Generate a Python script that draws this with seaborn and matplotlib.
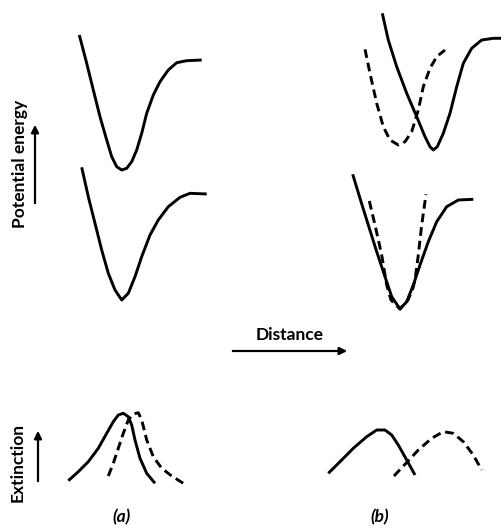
import matplotlib
matplotlib.use("Agg")
import matplotlib.pyplot as plt
import seaborn as sns

sns.set_theme(style="white")
plt.rcParams['font.family'] = ['Lato', 'DejaVu Sans']

# Schematic curves (distance, energy/extinction)
a_up_x = [79.3, 86.7, 93.3, 100, 106.7, 111.7, 116.7, 121.7, 126.7, 131.7, 136.7, 141.7,
          146.7, 153.3, 160, 168.3, 176.7, 186.7, 201.7]
a_up_y = [35, 63.3, 90, 116.7, 140, 156.7, 166.7, 170, 168.3, 161.7, 150, 133.3,
          113.3, 95, 81.7, 70, 62.7, 60.7, 60]

a_lo_x = [81.7, 88.3, 95, 101.7, 108.3, 115, 121.7, 128.3, 135, 141.7, 150, 158.3,
          168.3, 180, 190, 206.7]
a_lo_y = [167.3, 196.7, 223.3, 250, 273.3, 290, 300, 293.3, 276.7, 256.7, 235, 220,
          206.7, 197.3, 193.3, 194]

b_up_sx = [382.3, 388.3, 396.7, 406.7, 416.7, 425, 430, 433.3, 437.3, 443.3, 450, 456.7,
           463.3, 471.7, 481.7, 493.3, 502]
b_up_sy = [13.3, 40, 66.7, 93.3, 116.7, 136.7, 146.7, 150, 146.7, 133.3, 113.3, 86.7,
           63.3, 48.3, 40, 38.3, 38.3]

b_up_dx = [365, 370, 376.7, 383.3, 390, 398.3, 405, 411.7, 418.3, 423.3, 430, 436.7, 445]
b_up_dy = [49.3, 73.3, 103.3, 126.7, 140, 145, 141.7, 131.7, 110, 86.7, 68.3, 56.7, 50]

b_lo_sx = [352.7, 360, 368.3, 376.7, 385, 391.7, 400, 406.7, 413.3, 420, 428.3, 436.7,
           446.7, 458.3, 473.3]
b_lo_sy = [174.3, 198.3, 225, 251.7, 276.7, 296.7, 309, 301.7, 285, 265, 241.7, 221.7,
           206.7, 200, 199.3]

b_lo_dx = [369.3, 375, 381.7, 386.7, 391, 400, 408, 413, 415, 418.3, 421.7, 426]
b_lo_dy = [201, 225, 255, 285, 300, 309, 300, 288, 280, 255, 225, 194.3]

ext_a_sx = [68.3, 78.3, 88.3, 98.3, 106.7, 113.3, 118.3, 123.3, 128.3, 131.7, 135, 140,
            146.7, 155]
ext_a_sy = [480.7, 471.7, 461.7, 448.3, 433.3, 421.7, 415, 413.3, 416.7, 425, 440, 458.3,
            473.3, 483.3]
ext_a_dx = [108.3, 113.3, 118.3, 123.3, 128.3, 133.3, 138.3, 141.7, 146.7, 153.3, 161.7,
            171.7, 183.3]
ext_a_dy = [476, 463.3, 448.3, 433.3, 420, 414, 412.7, 420, 440, 456.7, 468.3, 476, 483.3]

ext_b_sx = [328.3, 340, 353.3, 366.7, 376.7, 385, 391.7, 398.3, 406.7, 415]
ext_b_sy = [473.3, 461.7, 448.3, 436.7, 430, 430, 435, 445, 460, 475]
ext_b_dx = [394, 405, 418.3, 431.7, 443.3, 453.3, 463.3, 473.3, 481.7]
ext_b_dy = [476, 464.3, 450, 438.3, 431.7, 433.3, 441.7, 455, 470]

labels = {"y1": "Potential energy", "y2": "Extinction", "x": "Distance",
          "a": "(a)", "b": "(b)"}

fig = plt.figure(figsize=(5.02, 5.28), dpi=100)
ax = fig.add_axes([0, 0, 1, 1])
ax.set_xlim(0, 502)
ax.set_ylim(528, 0)
ax.axis("off")

solid = [(a_up_x, a_up_y), (a_lo_x, a_lo_y), (b_up_sx, b_up_sy), (b_lo_sx, b_lo_sy),
         (ext_a_sx, ext_a_sy), (ext_b_sx, ext_b_sy)]
dashed = [(b_up_dx, b_up_dy), (b_lo_dx, b_lo_dy), (ext_a_dx, ext_a_dy), (ext_b_dx, ext_b_dy)]

for xs, ys in solid:
    sns.lineplot(x=xs, y=ys, sort=False, estimator=None, ax=ax, color="black", lw=2.1,
                 solid_joinstyle="round", solid_capstyle="butt")
for xs, ys in dashed:
    sns.lineplot(x=xs, y=ys, sort=False, estimator=None, ax=ax, color="black", lw=2.1,
                 linestyle=(0, (3.0, 1.7)), dash_joinstyle="round")

fs = 12.5
tkw = dict(fontsize=fs, fontweight="bold", color="black")
ax.text(20, 164, labels["y1"], rotation=90, ha="center", va="center", **tkw)
ax.text(18, 463, labels["y2"], rotation=90, ha="center", va="center", **tkw)
ax.text(290, 335, labels["x"], ha="center", va="center", **tkw)
ax.text(122, 517, labels["a"], ha="center", va="center", style="italic", **tkw)
ax.text(380, 517, labels["b"], ha="center", va="center", style="italic", **tkw)

arrow = dict(arrowstyle="-|>", color="black", lw=1.6, mutation_scale=11)
ax.annotate("", xy=(35, 122), xytext=(35, 206), arrowprops=arrow)
ax.annotate("", xy=(38, 428), xytext=(38, 484), arrowprops=arrow)
ax.annotate("", xy=(350, 351), xytext=(230, 351), arrowprops=arrow)

fig.savefig("out.png", dpi=100, facecolor="white")
